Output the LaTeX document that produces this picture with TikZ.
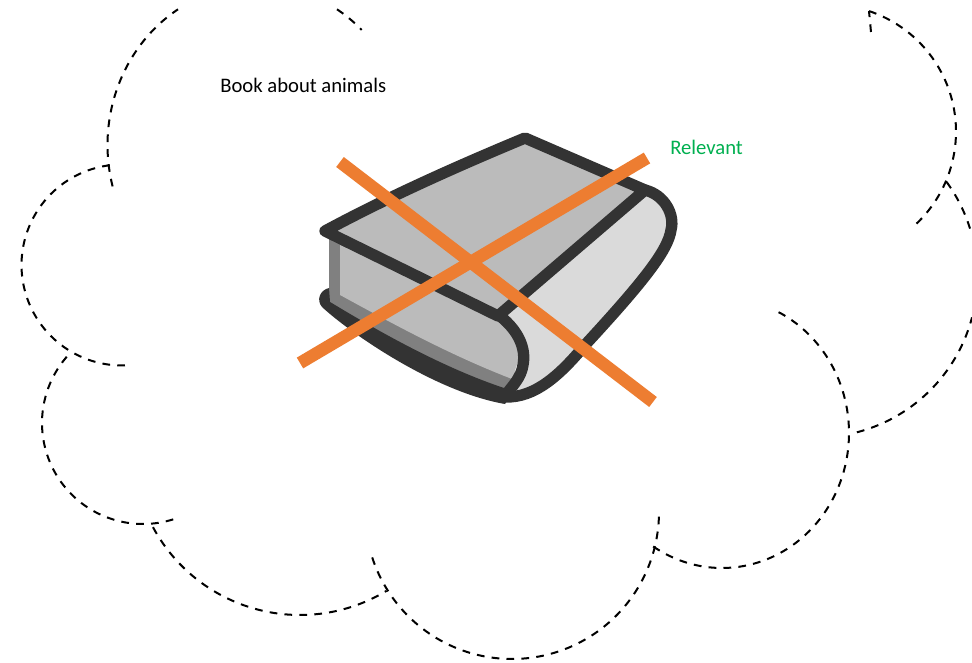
\documentclass[tikz,border=0pt]{standalone}
\usepackage{fontspec}
\setmainfont{Carlito}
\definecolor{bookdark}{HTML}{333333}
\definecolor{bookmid}{HTML}{BBBBBB}
\definecolor{booklight}{HTML}{DADADA}
\definecolor{bookedge}{HTML}{808080}
\definecolor{crossorange}{HTML}{ED7D31}
\definecolor{relgreen}{HTML}{00B050}
\tikzset{
  lobe/.style={draw=black,line width=1.5pt,dash pattern=on 5.8pt off 5.4pt},
  bookline/.style={draw=bookdark,line width=8.5pt,line join=round,line cap=round},
  crossbar/.style={draw=crossorange,line width=9.4pt},
  lbl/.style={inner sep=0pt,anchor=base west,font=\fontsize{15.5pt}{18pt}\selectfont}
}
% centre x, centre y, x radius, y radius, start, end (screen angles, y down)
\newcommand{\lobearc}[6]{\draw[lobe] plot[domain=#5:#6,samples=70,smooth] ({#1+#3*cos(\x)},{#2+#4*sin(\x)});}
\begin{document}
\begin{tikzpicture}[x=0.75pt,y=-0.75pt]
\useasboundingbox (0,0) rectangle (972,663);
\fill[white] (0,0) rectangle (972,663);
% cloud lobes
\lobearc{257.5}{145}{150}{160}{165}{238}
\lobearc{257.5}{145}{150}{160}{-58}{-46}
\lobearc{122}{265}{100.5}{100.5}{263}{87}
\lobearc{143}{423}{101}{101}{221}{70}
\lobearc{300}{448}{167}{167}{151.7}{58.8}
\lobearc{512}{512}{147}{147}{162}{0}
\lobearc{722}{433}{127}{135}{122.8}{-64.6}
\lobearc{816.3}{276.5}{161}{161}{75.4}{14.7}
\lobearc{816.3}{276.5}{161}{161}{-36}{-15}
\lobearc{829}{131.6}{127}{127}{-71.6}{48}
\draw[lobe] (871,32) -- (869,11);
% book: page block
\fill[bookedge] (329,238) -- (329,306) -- (420,362) -- (505,396) -- (516,378) -- (500,316) -- cycle;
\fill[bookmid] (340,245) -- (340,295) .. controls (395,325) and (450,355) .. (512,379) -- (522,350) -- (500,316) -- cycle;
% book: bottom band
\fill[bookdark] (329,288) .. controls (320,290) and (316,300) .. (322,307) .. controls (350,333) and (435,392) .. (505,404) -- (516,388) -- (504,388) .. controls (435,365) and (365,323) .. (330,302) -- cycle;
% book: spine
\fill[booklight] (497,316) -- (645,190) .. controls (665,195) and (675,215) .. (671,230) .. controls (668,250) and (645,280) .. (585,345) .. controls (560,375) and (535,398) .. (505,397) .. controls (525,375) and (530,345) .. cycle;
% book: cover
\fill[bookmid] (325,231) -- (525,138) -- (645,190) -- (497,316) -- cycle;
% book: outlines
\draw[bookline] (325,231) .. controls (390,196) and (460,165) .. (525,138) -- (645,190) -- (498,316) -- cycle;
\draw[bookline] (645,190) .. controls (665,195) and (675,215) .. (671,230) .. controls (668,250) and (645,280) .. (585,345) .. controls (560,375) and (535,398) .. (505,397);
\draw[bookline] (500,316) .. controls (520,332) and (526,350) .. (523,365) .. controls (521,378) and (513,385) .. (505,396);
% cross
\draw[crossbar] (340,162) -- (653,402);
\draw[crossbar] (647,158) -- (300,363);
% labels
\node[lbl] (booklabel) at (220,92.7) {Book about animals};
\node[lbl,text=relgreen] (relevantlabel) at (670,155) {Relevant};
\end{tikzpicture}
\end{document}
